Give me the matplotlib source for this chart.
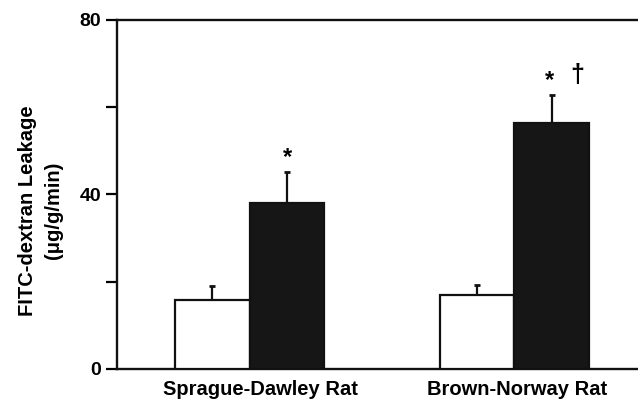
import numpy as np
import matplotlib.pyplot as plt

plt.rcParams['font.family'] = ['Liberation Sans', 'DejaVu Sans']
plt.rcParams['font.weight'] = 'bold'

groups = ["Sprague-Dawley Rat", "Brown-Norway Rat"]
control = [15.8, 17.0]
control_err = [3.3, 2.3]
treated = [38.0, 56.5]
treated_err = [7.2, 6.3]
marks = ["*", "*"]
dagger = ["", "\u2020"]

fig = plt.figure(figsize=(6.38, 3.99), dpi=100)
ax = fig.add_axes([0.1834, 0.0752, 0.8307, 0.8747])

x = np.arange(len(groups))
w = 0.283
ax.bar(x - w / 2, control, w, color='white', edgecolor='#111111', linewidth=1.6, zorder=3)
ax.bar(x + w / 2, treated, w, color='#161616', edgecolor='#111111', linewidth=1.6, zorder=3)
ax.errorbar(x - w / 2, control, yerr=[np.zeros(2), control_err], fmt='none',
            ecolor='#111111', elinewidth=1.6, capsize=2.2, capthick=2, zorder=2)
ax.errorbar(x + w / 2, treated, yerr=[np.zeros(2), treated_err], fmt='none',
            ecolor='#111111', elinewidth=1.6, capsize=2.2, capthick=2, zorder=2)

for i in range(len(groups)):
    top = treated[i] + treated_err[i]
    ax.text(x[i] + w / 2 - (0.01 if dagger[i] else 0), top + 0.6, marks[i],
            ha='center', va='bottom', fontsize=17, fontweight='bold')
    if dagger[i]:
        ax.text(x[i] + w / 2 + 0.094, top + 1.9, dagger[i], ha='center', va='bottom',
                fontsize=18, fontweight='bold')

ax.set_xlim(-0.5, 1.5)
ax.set_ylim(0, 80)
ax.set_yticks([0, 40, 80])
ax.set_yticks([20, 60], minor=True)
ax.tick_params(axis='y', which='both', direction='out', length=8, width=1.6, labelsize=14)
ax.tick_params(axis='x', length=0, labelsize=14.5, pad=8)
# labels sit slightly right of the group centres in the original
ax.set_xticks(x + np.array([0.04, 0.01]))
ax.set_xticklabels(groups, fontweight='bold')
for lab in ax.get_yticklabels():
    lab.set_fontweight('bold')
for s in ['left', 'top', 'bottom']:
    ax.spines[s].set_linewidth(1.7)
    ax.spines[s].set_color('#111111')
ax.spines['right'].set_visible(False)

ax.set_ylabel("FITC-dextran Leakage\n(\u03bcg/g/min)", fontsize=14.5, fontweight='bold',
              linespacing=1.45)
ax.yaxis.set_label_coords(-0.102, 0.455)

fig.savefig("out.png", dpi=100)
